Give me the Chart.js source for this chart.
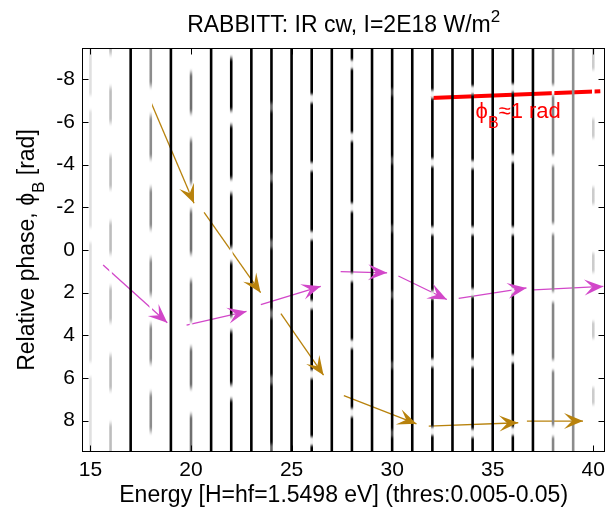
<!DOCTYPE html>
<html><head><meta charset="utf-8">
<script src="https://cdn.jsdelivr.net/npm/chart.js@4/dist/chart.umd.min.js"></script>
<style>html,body{margin:0;padding:0;background:#fff;}canvas{display:block;}</style>
</head><body>
<canvas id="c" width="612" height="513"></canvas>
<script>
// ---------------- data ----------------
const xTicks = [15, 20, 25, 30, 35, 40];
const yTicks = [-8, -6, -4, -2, 0, 2, 4, 6, 8];
const xRange = [14.63, 40.55];
const phaseRange = [-3 * Math.PI, 3 * Math.PI];

// odd orders: harmonics (no phase modulation), darkness 0..1
const harmonicOrders = [17, 19, 21, 23, 25, 27, 29, 31, 33, 35, 37, 39];
const harmonicLevel  = [1, 1, 1, 1, 1, 1, 1, 1, 1, 1, 1, 0.45];

// even orders: sidebands, peak darkness and darkness left at the minima (fraction)
const sidebandOrders   = [15, 16, 18, 20, 22, 24, 26, 28, 30, 32, 34, 36, 38, 40];
const sidebandLevel    = [0.12, 0.26, 0.45, 0.56, 1, 1, 1, 1, 1, 1, 1, 1, 0.48, 0.2];
const sidebandMinLevel = [0, 0, 0, 0, 0, 0.6, 0.05, 0.05, 0.7, 0.05, 0.05, 0.05, 0, 0];
// phase positions of the sideband minima (rad)
const sidebandMinima = [
  [-6.9, -0.7, 5.6],
  [-8.4, -5.2, -2.1, 0.95, 4.15, 7.35],
  [-7.0, -3.6, -0.3, 2.8, 6.0, 9.2],
  [-8.95, -5.8, -2.5, 0.8, 3.95, 7.1],
  [-9.35, -6.2, -3.0, 0.22, 3.45, 6.66],
  [-6.7, -3.4, -0.28, 3.0, 6.1, 9.3],
  [-7.1, -3.9, -0.67, 2.57, 5.83, 8.96],
  [-8.7, -5.3, -2.0, 1.28, 4.42, 7.63],
  [-7.4, -4.2, -1.0, 2.1, 5.4, 8.6],
  [-7.3, -4.1, -0.9, 2.1, 5.3, 8.5],
  [-7.5, -4.0, -0.9, 2.0, 5.3, 8.6],
  [-7.6, -4.3, -0.9, 1.9, 5.1, 8.5],
  [-7.5, -4.2, -1.0, 2.2, 5.4, 8.5],
  [-7.3, -4.1, -1.0, 2.2, 5.3, 8.4]
];

// annotation arrows (energy, phase)
const magentaFromE   = [15.63, 19.78, 23.47, 27.44, 30.31, 33.31, 37.04];
const magentaFromPhi = [0.70, 3.52, 2.56, 1.01, 1.22, 2.27, 1.87];
const magentaToE     = [18.82, 22.76, 26.45, 29.75, 32.72, 36.68, 40.50];
const magentaToPhi   = [3.41, 2.88, 1.70, 1.07, 2.32, 1.78, 1.71];

const brownFromE   = [18.03, 20.65, 24.47, 27.60, 31.82, 36.70];
const brownFromPhi = [-6.88, -1.76, 2.98, 6.83, 8.26, 8.02];
const brownToE     = [20.15, 23.46, 26.59, 31.21, 36.27, 39.49];
const brownToPhi   = [-2.19, 2.00, 5.87, 8.15, 8.10, 8.02];

// red phase-shift line
const phiBLineE   = [31.93, 40.35];
const phiBLinePhi = [-7.13, -7.44];

// ---------------- styles ----------------
const FONT = "'Liberation Sans', Arial, Helvetica, sans-serif";
const sbGapHalf = [0.2, 0.55, 0.45, 0.4, 0.15, 0.05, 0.08, 0.08, 0.05, 0.07, 0.07, 0.07, 0.1, 1.0];
const sbGapRamp = [0.3, 0.45, 0.5, 0.45, 0.4, 0.3, 0.25, 0.25, 0.25, 0.25, 0.25, 0.25, 0.3, 0.3];
const LINE_W = 2.6;
const MAGENTA = '#d247c9';
const BROWN = '#b8820c';

function gray(level) {
  const v = Math.round(255 * (1 - level));
  return 'rgb(' + v + ',' + v + ',' + v + ')';
}

function sidebandColor(chart, i) {
  const area = chart.chartArea, ys = chart.scales && chart.scales.y;
  const lvl = sidebandLevel[i];
  if (!area || !ys) return gray(lvl);
  const H = area.bottom - area.top;
  const g = chart.ctx.createLinearGradient(0, area.top, 0, area.bottom);
  const mins = sidebandMinima[i];
  const lo = lvl * sidebandMinLevel[i];
  for (let p = 0; p <= H; p += 1) {
    const v = ys.getValueForPixel(area.top + p);
    let d = Infinity;
    for (const m of mins) d = Math.min(d, Math.abs(v - m));
    let t = (d - sbGapHalf[i]) / sbGapRamp[i];
    t = Math.max(0, Math.min(1, t));
    t = t * t * (3 - 2 * t);
    g.addColorStop(p / H, gray(lo + (lvl - lo) * t));
  }
  return g;
}

const datasets = [];
sidebandOrders.forEach((e, i) => {
  datasets.push({
    data: [{x: e, y: phaseRange[0]}, {x: e, y: phaseRange[1]}],
    borderWidth: LINE_W, pointRadius: 0, borderCapStyle: 'butt',
    borderColor: (ctx) => sidebandColor(ctx.chart, i)
  });
});
harmonicOrders.forEach((e, i) => {
  datasets.push({
    data: [{x: e, y: phaseRange[0]}, {x: e, y: phaseRange[1]}],
    borderWidth: LINE_W, pointRadius: 0, borderCapStyle: 'butt',
    borderColor: gray(harmonicLevel[i])
  });
});
const arrowGroups = [
  {fromE: magentaFromE, fromPhi: magentaFromPhi, toE: magentaToE, toPhi: magentaToPhi, color: MAGENTA},
  {fromE: brownFromE, fromPhi: brownFromPhi, toE: brownToE, toPhi: brownToPhi, color: BROWN}
];
arrowGroups.forEach(gp => {
  gp.toE.forEach((_, k) => {
    datasets.push({
      data: [{x: gp.fromE[k], y: gp.fromPhi[k]}, {x: gp.toE[k], y: gp.toPhi[k]}],
      borderWidth: 1.3, pointRadius: 0, borderColor: gp.color
    });
  });
});
datasets.push({
  data: phiBLineE.map((e, k) => ({x: e, y: phiBLinePhi[k]})),
  borderWidth: 4, pointRadius: 0, borderColor: '#ff0000', borderCapStyle: 'butt'
});

// ---------------- plugins ----------------
const arrowHeads = {
  id: 'arrowHeads',
  afterDatasetsDraw(chart) {
    const {ctx, scales: {x, y}} = chart;
    ctx.save();
    arrowGroups.forEach(gp => {
      gp.toE.forEach((_, k) => {
        const x0 = x.getPixelForValue(gp.fromE[k]), y0 = y.getPixelForValue(gp.fromPhi[k]);
        const x1 = x.getPixelForValue(gp.toE[k]), y1 = y.getPixelForValue(gp.toPhi[k]);
        const L = Math.hypot(x1 - x0, y1 - y0);
        const ux = (x1 - x0) / L, uy = (y1 - y0) / L, nx = -uy, ny = ux;
        const hl = 19, hw = 8, notch = 11;
        ctx.beginPath();
        ctx.moveTo(x1, y1);
        ctx.lineTo(x1 - hl * ux + hw * nx, y1 - hl * uy + hw * ny);
        ctx.lineTo(x1 - notch * ux, y1 - notch * uy);
        ctx.lineTo(x1 - hl * ux - hw * nx, y1 - hl * uy - hw * ny);
        ctx.closePath();
        ctx.fillStyle = gp.color;
        ctx.fill();
      });
    });
    ctx.restore();
  }
};

function measureParts(ctx, parts, size) {
  let w = 0;
  parts.forEach(([t, kind]) => {
    const fs = kind ? Math.round(size * 0.74) : size;
    ctx.font = fs + 'px ' + FONT;
    w += ctx.measureText(t).width;
  });
  return w;
}
function renderParts(ctx, parts, size, x0, y0) {
  let x = x0;
  parts.forEach(([t, kind]) => {
    const fs = kind ? Math.round(size * 0.74) : size;
    ctx.font = fs + 'px ' + FONT;
    const dy = kind === 'sub' ? size * 0.45 : kind === 'sup' ? -size * 0.42 : 0;
    ctx.fillText(t, x, y0 + dy);
    x += ctx.measureText(t).width;
  });
}

const decorations = {
  id: 'decorations',
  afterDraw(chart) {
    const {ctx, chartArea: a, scales: {x, y}} = chart;
    ctx.save();
    // box
    ctx.strokeStyle = '#000';
    ctx.lineWidth = 1;
    const L = Math.round(a.left) - 0.5, R = Math.round(a.right) + 0.5;
    const T = Math.round(a.top) - 0.5, B = Math.round(a.bottom) + 0.5;
    ctx.strokeRect(L, T, R - L, B - T);
    // inner ticks
    ctx.beginPath();
    xTicks.forEach(v => {
      const px = Math.round(x.getPixelForValue(v)) + 0.5;
      ctx.moveTo(px, B); ctx.lineTo(px, B - 6);
      ctx.moveTo(px, T); ctx.lineTo(px, T + 6);
    });
    yTicks.forEach(v => {
      const py = Math.round(y.getPixelForValue(v)) + 0.5;
      ctx.moveTo(L, py); ctx.lineTo(L + 6, py);
      ctx.moveTo(R, py); ctx.lineTo(R - 6, py);
    });
    ctx.stroke();

    ctx.fillStyle = '#000';
    ctx.textBaseline = 'alphabetic';
    ctx.textAlign = 'left';
    // title
    const tParts = [['RABBITT: IR cw, I=2E18 W/m', null], ['2', 'sup']];
    const tw = measureParts(ctx, tParts, 23);
    renderParts(ctx, tParts, 23, (a.left + a.right) / 2 - tw / 2, 32);
    // y label
    const yParts = [['Relative phase, ϕ', null], ['B', 'sub'], [' [rad]', null]];
    const yw = measureParts(ctx, yParts, 23);
    ctx.save();
    ctx.translate(34, (a.top + a.bottom) / 2);
    ctx.rotate(-Math.PI / 2);
    renderParts(ctx, yParts, 23, -yw / 2, 0);
    ctx.restore();
    // red annotation
    ctx.fillStyle = '#ff0000';
    const rParts = [['ϕ', null], ['B', 'sub'], ['≈1 rad', null]];
    renderParts(ctx, rParts, 22, x.getPixelForValue(34.15), y.getPixelForValue(-6.2));
    ctx.restore();
  }
};

new Chart(document.getElementById('c'), {
  type: 'line',
  data: {datasets},
  options: {
    responsive: false,
    animation: false,
    devicePixelRatio: 1,
    layout: {padding: {top: 49, right: 2, left: 0, bottom: 0}},
    plugins: {legend: {display: false}, tooltip: {enabled: false}, title: {display: false}},
    scales: {
      x: {
        type: 'linear', min: xRange[0], max: xRange[1],
        grid: {display: false, drawTicks: false}, border: {display: false},
        afterBuildTicks: s => { s.ticks = xTicks.map(v => ({value: v})); },
        afterFit: s => { s.height = 62; },
        ticks: {color: '#000', font: {family: FONT, size: 21}, padding: 7, maxRotation: 0, autoSkip: false,
                callback: v => String(v)},
        title: {display: true, text: 'Energy [H=hf=1.5498 eV] (thres:0.005-0.05)', color: '#000',
                font: {family: FONT, size: 23}, padding: {top: 0, bottom: 4}}
      },
      y: {
        type: 'linear', reverse: true, min: phaseRange[0], max: phaseRange[1],
        grid: {display: false, drawTicks: false}, border: {display: false},
        afterBuildTicks: s => { s.ticks = yTicks.map(v => ({value: v})); },
        afterFit: s => { s.width = 83; },
        ticks: {color: '#000', font: {family: FONT, size: 21}, padding: 8, autoSkip: false,
                callback: v => String(v)}
      }
    }
  },
  plugins: [arrowHeads, decorations]
});
</script>
</body></html>
